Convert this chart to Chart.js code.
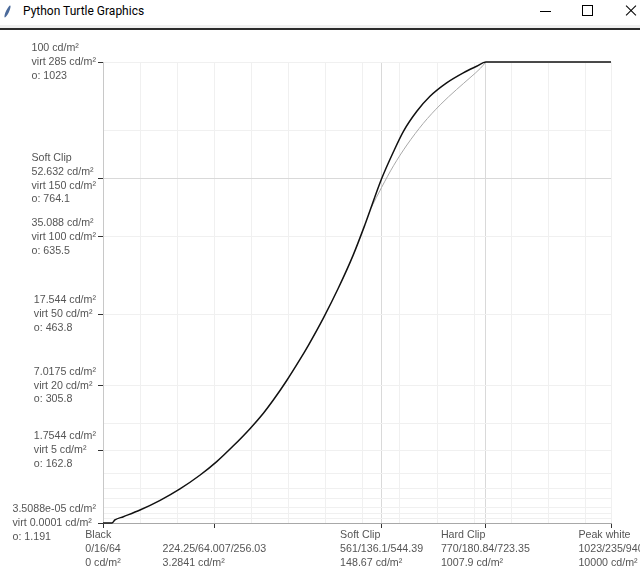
<!DOCTYPE html>
<html>
<head>
<meta charset="utf-8">
<script src="https://cdn.jsdelivr.net/npm/chart.js@4.4.1/dist/chart.umd.min.js"></script>
<style>
  html, body { margin: 0; padding: 0; background: #fff; }
  body { width: 640px; height: 574px; position: relative; overflow: hidden; }
  #titlebar { position: absolute; left: 0; top: 0; width: 640px; height: 25px; background: #fff; }
  #titlebar .title { position: absolute; left: 23px; top: 4px; font: 12px "Segoe UI", Roboto, sans-serif; color: #000; }
  #titlebar .icon { position: absolute; left: 6px; top: 5px; width: 3px; height: 13px; border-radius: 50%;
    background: #4b6a9b; transform: rotate(25deg); }
  #titlebar .min { position: absolute; left: 540px; top: 11px; width: 11px; height: 1px; background: #000; }
  #titlebar .max { position: absolute; left: 582px; top: 5px; width: 9px; height: 9px; border: 1px solid #000; }
  #titlebar .close { position: absolute; left: 625px; top: 4px; width: 12px; height: 12px; }
  #titlebar .close::before, #titlebar .close::after { content: ""; position: absolute; left: -1px; top: 6px; width: 14px; height: 1px; background: #000; }
  #titlebar .close::before { transform: rotate(45deg); }
  #titlebar .close::after { transform: rotate(-45deg); }
  #sep1 { position: absolute; left: 0; top: 25px; width: 640px; height: 3px; background: #f0f0f0; }
  #sep2 { position: absolute; left: 0; top: 28px; width: 640px; height: 2px; background: #2b2b2b; }
  #wrap { position: absolute; left: 0; top: 30px; width: 640px; height: 544px; }
</style>
</head>
<body>
<div id="titlebar">
  <div class="icon"></div>
  <div class="title">Python Turtle Graphics</div>
  <div class="min"></div>
  <div class="max"></div>
  <div class="close"></div>
</div>
<div id="sep1"></div>
<div id="sep2"></div>
<div id="wrap"><canvas id="c" width="640" height="544"></canvas></div>
<script>
// ---- data ---------------------------------------------------------
// x: full range 10-bit code, y: output code "o"
const curveX = [0, 18, 24, 41, 74.5, 115, 155, 195, 229, 262, 296, 323, 343, 370, 397, 413, 444, 474, 504, 528,
  561, 585, 605, 632, 658.5, 692, 725.6, 752.5, 771, 1023];
const curveY = [1.191, 1.191, 7.9, 15.2, 30, 51.4, 76.8, 107, 137.2, 171.7, 210.3, 244.6, 273.7, 317.1, 364.4, 394, 456, 522, 595.5, 663.9,
  764.1, 824.2, 869.4, 913.8, 947.1, 976.8, 999, 1013.6, 1023, 1023];

// thin grey curve between soft clip and hard clip
const softX = [540, 561, 585, 612, 645, 679, 712, 739, 760, 771];
const softY = [700, 745, 793, 839, 887, 928, 962, 988, 1009, 1023];

const xTickValues = [0, 224.25, 561, 770, 1023];
const xTickLabels = [
  ["Black", "0/16/64", "0 cd/m²"],
  ["", "224.25/64.007/256.03", "3.2841 cd/m²"],
  ["Soft Clip", "561/136.1/544.39", "148.67 cd/m²"],
  ["Hard Clip", "770/180.84/723.35", "1007.9 cd/m²"],
  ["Peak white", "1023/235/940", "10000 cd/m²"],
];
const yTickValues = [1023, 764.1, 635.5, 463.8, 305.8, 162.8, 1.191];
const yTickLabels = [
  ["100 cd/m²", "virt 285 cd/m²", "o: 1023"],
  ["Soft Clip", "52.632 cd/m²", "virt 150 cd/m²", "o: 764.1"],
  ["35.088 cd/m²", "virt 100 cd/m²", "o: 635.5"],
  ["17.544 cd/m²", "virt 50 cd/m²", "o: 463.8"],
  ["7.0175 cd/m²", "virt 20 cd/m²", "o: 305.8"],
  ["1.7544 cd/m²", "virt 5 cd/m²", "o: 162.8"],
  ["3.5088e-05 cd/m²", "virt 0.0001 cd/m²", "o: 1.191"],
];

// faint grid (x every 16 steps of 8-bit limited range)
const xGridValues = [74.74, 149.5, 299.0, 373.7, 448.5, 523.2, 598.0, 672.7, 747.5, 822.2, 897.0, 971.7];
const yGridValues = [871.9, 221, 110, 76.7, 54.5, 34.5, 21.2, 10.1];
const xClipLines = [561, 770];
const yClipLines = [764.1];

// ---- styling ------------------------------------------------------
const FONT = '10.67px "Liberation Sans", Arial, sans-serif';
const LINE_H = 13.8;
const TEXT_COLOR = "#555";
const GRID_FAINT = "#f0f0f0";
const GRID_CLIP = "#d9d9d9";

const near = (a, list) => list.some((b) => Math.abs(a - b) < 0.01);

function axisOpts(ticksList, gridList, clipList, min, max) {
  const all = [...new Set([...ticksList, ...gridList])].sort((a, b) => a - b);
  return {
    type: "linear",
    min, max,
    afterBuildTicks: (s) => { s.ticks = all.map((v) => ({ value: v })); },
    ticks: { display: false },
    grid: {
      color: (c) => (near(c.tick.value, clipList) ? GRID_CLIP : GRID_FAINT),
      tickColor: (c) => (near(c.tick.value, ticksList) ? "#333" : "rgba(0,0,0,0)"),
      tickLength: 5,
      lineWidth: 1,
    },
  };
}

// multi-line tick labels: block aligned to tick, lines left-aligned inside
const tickLabels = {
  id: "tickLabels",
  afterDraw(chart) {
    const { ctx, chartArea, scales: { x, y } } = chart;
    ctx.save();
    ctx.font = FONT;
    ctx.fillStyle = TEXT_COLOR;
    ctx.textAlign = "left";
    ctx.textBaseline = "middle";
    const blockW = (lines) => Math.max(...lines.map((l) => ctx.measureText(l).width));

    yTickValues.forEach((v, i) => {
      const lines = yTickLabels[i];
      const left = chartArea.left - 7 - blockW(lines);
      const top = y.getPixelForValue(v) - ((lines.length - 1) * LINE_H) / 2;
      lines.forEach((l, j) => ctx.fillText(l, left, top + j * LINE_H));
    });

    xTickValues.forEach((v, i) => {
      const lines = xTickLabels[i];
      const left = x.getPixelForValue(v) - blockW(lines) / 2;
      const top = chartArea.bottom + 12.5;
      lines.forEach((l, j) => ctx.fillText(l, left, top + j * LINE_H));
    });
    ctx.restore();
  },
};

const xAxis = axisOpts(xTickValues, xGridValues, xClipLines, 0, 1023);
xAxis.afterFit = (s) => { s.height = 51; };
xAxis.border = { color: "#a8a8a8" };

const yAxis = axisOpts(yTickValues, yGridValues, yClipLines, 1.191, 1023);
yAxis.afterFit = (s) => { s.width = 103; };
yAxis.border = { color: "#c8c8c8" };

new Chart(document.getElementById("c"), {
  type: "line",
  data: {
    datasets: [
      {
        label: "curve",
        data: curveX.map((v, i) => ({ x: v, y: curveY[i] })),
        borderColor: "#111",
        borderWidth: 1.5,
        pointRadius: 0,
        cubicInterpolationMode: "monotone",
        clip: 4,
      },
      {
        label: "soft",
        data: softX.map((v, i) => ({ x: v, y: softY[i] })),
        borderColor: "#a8a8a8",
        borderWidth: 1,
        pointRadius: 0,
        cubicInterpolationMode: "monotone",
        clip: 4,
      },
    ],
  },
  options: {
    responsive: false,
    animation: false,
    layout: { padding: { left: 0, top: 32, right: 29, bottom: 0 } },
    plugins: { legend: { display: false }, tooltip: { enabled: false } },
    scales: { x: xAxis, y: yAxis },
  },
  plugins: [tickLabels],
});
</script>
</body>
</html>
